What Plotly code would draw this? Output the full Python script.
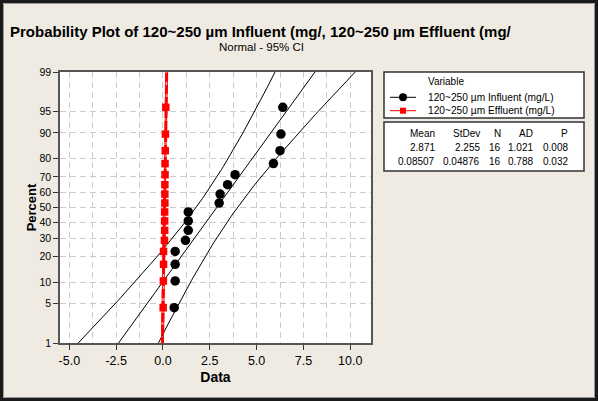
from statistics import NormalDist
import plotly.graph_objects as go

# ---------------- data ----------------
series_names = ["120~250 µm Influent (mg/L)", "120~250 µm Effluent (mg/L)"]
influent = [0.60, 0.65, 0.65, 0.65, 1.20, 1.35, 1.35, 1.35,
            3.00, 3.05, 3.45, 3.85, 5.90, 6.25, 6.30, 6.40]
effluent = [0.01, 0.02, 0.03, 0.03, 0.08, 0.09, 0.09, 0.09,
            0.10, 0.10, 0.10, 0.11, 0.11, 0.12, 0.13, 0.15]
stat_mean = [2.871, 0.08507]
stat_sd = [2.255, 0.04876]
stat_n = [16, 16]
stat_ad = [1.021, 0.788]
stat_p = [0.008, 0.032]
mean_txt = ["2.871", "0.08507"]
sd_txt = ["2.255", "0.04876"]
ad_txt = ["1.021", "0.788"]
p_txt = ["0.008", "0.032"]
pct_ticks = [1, 5, 10, 20, 30, 40, 50, 60, 70, 80, 90, 95, 99]
x_ticks = [-5.0, -2.5, 0.0, 2.5, 5.0, 7.5, 10.0]

nd = NormalDist()
zq = lambda p: nd.inv_cdf(p)

# ---------------- geometry helpers ----------------
W, H = 598, 401
L, R, T, B = 60, 371, 72, 343
def px(x): return (x - L) / (R - L)
def py(y): return (B - y) / (B - T)

FONT = "Liberation Sans"
colors = ["black", "red"]
symbols = ["circle", "square"]
datas = [influent, effluent]

fig = go.Figure()

zgrid = [-3.2 + 0.05 * k for k in range(129)]
for k in range(2):
    m, s, n = stat_mean[k], stat_sd[k], stat_n[k]
    fit = [m + s * z for z in zgrid]
    hw = [1.959964 * s * (1 / n + z * z / (2 * n)) ** 0.5 for z in zgrid]
    lo = [f - h for f, h in zip(fit, hw)]
    hi = [f + h for f, h in zip(fit, hw)]
    fig.add_trace(go.Scatter(x=lo, y=zgrid, mode="lines", line=dict(color=colors[k], width=1),
                             showlegend=False, hoverinfo="skip"))
    fig.add_trace(go.Scatter(x=hi, y=zgrid, mode="lines", line=dict(color=colors[k], width=1),
                             showlegend=False, hoverinfo="skip"))
    if k == 0:
        fig.add_trace(go.Scatter(x=fit, y=zgrid, mode="lines", line=dict(color="black", width=1),
                                 showlegend=False, hoverinfo="skip"))
    else:
        fig.add_trace(go.Scatter(x=fit, y=zgrid, mode="lines",
                                 line=dict(color="red", width=3, dash="9px,3px"),
                                 showlegend=False, hoverinfo="skip"))

for k in range(2):
    vals = sorted(datas[k])
    n = len(vals)
    ys = [zq((i + 1 - 0.3) / (n + 0.4)) for i in range(n)]
    fig.add_trace(go.Scatter(x=vals, y=ys, mode="markers", name=series_names[k],
                             marker=dict(symbol=symbols[k], color=colors[k],
                                         size=9.5 if k == 0 else 7.5, line=dict(width=0)),
                             showlegend=False))

zmin, zmax = zq(0.01), zq(0.99)
GRID = "#CCCCCC"

fig.update_layout(
    width=W, height=H,
    margin=dict(l=L, r=W - R, t=T, b=H - B, autoexpand=False),
    paper_bgcolor="#EFEBE2", plot_bgcolor="white",
    font=dict(family=FONT, color="black"),
    showlegend=False,
    xaxis=dict(range=[-5.5, 11.11], tickvals=x_ticks, ticktext=[f"{v:.1f}" for v in x_ticks],
               ticks="outside", ticklen=5, tickcolor="#333", tickfont=dict(size=12.5, family=FONT),
               showline=True, linecolor="#555", linewidth=1.5, mirror=True,
               showgrid=True, gridcolor=GRID, griddash="6px,4px", gridwidth=1,
               minor=dict(dtick=1.25, tick0=0, showgrid=True, gridcolor=GRID, griddash="6px,4px", ticks=""),
               zeroline=False, automargin=False,
               title=dict(text="<b>Data</b>", font=dict(size=14, family=FONT), standoff=5)),
    yaxis=dict(range=[zmin, zmax], tickvals=[zq(p / 100) for p in pct_ticks],
               ticktext=[str(p) for p in pct_ticks],
               ticks="outside", ticklen=5, tickcolor="#333", tickfont=dict(size=10.5, family=FONT),
               showline=True, linecolor="#555", linewidth=1.5, mirror=True,
               showgrid=True, gridcolor=GRID, griddash="6px,4px", gridwidth=1,
               zeroline=False, automargin=False,
               title=dict(text="<b>Percent</b>", font=dict(size=13, family=FONT), standoff=0)),
)

shapes = []
ann = []
# outer frame
shapes.append(dict(type="rect", xref="paper", yref="paper", x0=px(1.5), x1=px(W - 1.5), y0=py(1.5), y1=py(H - 1.5),
                   line=dict(color="#1a1a1a", width=3)))
shapes.append(dict(type="rect", xref="paper", yref="paper", x0=px(3.5), x1=px(W - 3.5), y0=py(3.5), y1=py(H - 3.5),
                   line=dict(color="#9a9a9a", width=1)))
# title
ann.append(dict(x=px(261), y=py(31.5), xref="paper", yref="paper", showarrow=False,
                text="<b>Probability Plot of 120~250 µm Influent (mg/, 120~250 µm Effluent (mg/</b>",
                font=dict(size=15, family=FONT), xanchor="center", yanchor="middle"))
ann.append(dict(x=px(261), y=py(46.5), xref="paper", yref="paper", showarrow=False,
                text="Normal - 95% CI", font=dict(size=11.5, family=FONT), xanchor="center", yanchor="middle"))

# legend box
shapes.append(dict(type="rect", xref="paper", yref="paper", x0=px(384), x1=px(584), y0=py(72), y1=py(118),
                   line=dict(color="#333", width=1.5), fillcolor="white", layer="below"))
ann.append(dict(x=px(426), y=py(81.7), xref="paper", yref="paper", showarrow=False, text="Variable",
                font=dict(size=10, family=FONT), xanchor="left", yanchor="middle"))
leg_y = [97.3, 110.7]
for k in range(2):
    yy = leg_y[k]
    shapes.append(dict(type="line", xref="paper", yref="paper", x0=px(390), x1=px(416), y0=py(yy), y1=py(yy),
                       line=dict(color=colors[k], width=1)))
    if k == 0:
        shapes.append(dict(type="circle", xref="paper", yref="paper", x0=px(399), x1=px(407),
                           y0=py(yy - 4), y1=py(yy + 4), fillcolor="black", line=dict(width=0)))
    else:
        shapes.append(dict(type="rect", xref="paper", yref="paper", x0=px(400), x1=px(406),
                           y0=py(yy - 3), y1=py(yy + 3), fillcolor="red", line=dict(width=0)))
    ann.append(dict(x=px(426), y=py(yy), xref="paper", yref="paper", showarrow=False, text=series_names[k],
                    font=dict(size=10.2, family=FONT), xanchor="left", yanchor="middle"))

# stats table
shapes.append(dict(type="rect", xref="paper", yref="paper", x0=px(384), x1=px(584), y0=py(122), y1=py(171),
                   line=dict(color="#333", width=1.5), fillcolor="white", layer="below"))
col_x = [437, 482, 502.5, 535, 569.5]
headers = ["Mean", "StDev", "N", "AD", "P"]
rows = [headers] + [[mean_txt[k], sd_txt[k], str(stat_n[k]), ad_txt[k], p_txt[k]] for k in range(2)]
row_y = [133.3, 147.7, 161.7]
for r, row in enumerate(rows):
    for c, txt in enumerate(row):
        ann.append(dict(x=px(col_x[c]), y=py(row_y[r]), xref="paper", yref="paper", showarrow=False, text=txt,
                        font=dict(size=10, family=FONT), xanchor="right", yanchor="middle"))

fig.update_layout(shapes=shapes, annotations=ann)
fig.write_html("out.html", config={"displayModeBar": False},
               post_script="document.body.style.margin='0';document.body.style.padding='0';")
